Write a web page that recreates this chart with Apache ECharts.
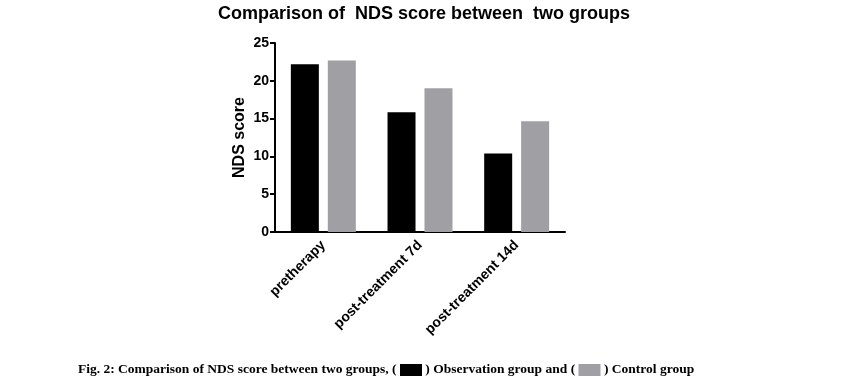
<!DOCTYPE html>
<html><head><meta charset="utf-8">
<script src="https://cdn.jsdelivr.net/npm/echarts@6/dist/echarts.min.js"></script>
<style>html,body{margin:0;padding:0;background:#fff}#c{width:864px;height:384px}</style>
</head><body><div id="c"></div>
<script>
var categories = ['pretherapy', 'post-treatment 7d', 'post-treatment 14d'];
var observation = [22.2, 15.85, 10.4];
var control = [22.7, 19.0, 14.65];
var yTicks = [0, 5, 10, 15, 20, 25];

var chart = echarts.init(document.getElementById('c'));
chart.setOption({
  animation: false,
  backgroundColor: '#fff',
  title: {
    text: 'Comparison of  NDS score between  two groups',
    left: 419, top: 0, textAlign: 'center',
    textStyle: {fontFamily: 'Liberation Sans, Arial', fontWeight: 'bold', fontSize: 18, color: '#000'}
  },
  grid: {left: 275, top: 43, width: 290, height: 189, containLabel: false},
  xAxis: {
    type: 'category', data: categories,
    axisLine: {lineStyle: {color: '#000', width: 2}},
    axisTick: {alignWithLabel: true, length: 5, lineStyle: {color: '#000', width: 2}},
    axisLabel: {rotate: 45, color: '#000', fontFamily: 'Liberation Sans, Arial', fontWeight: 'bold', fontSize: 14, margin: 11}
  },
  yAxis: {
    type: 'value', min: 0, max: 25, interval: 5,
    name: 'NDS score', nameLocation: 'middle', nameGap: 27,
    nameTextStyle: {fontFamily: 'Liberation Sans, Arial', fontWeight: 'bold', fontSize: 16, color: '#000'},
    axisLine: {show: true, lineStyle: {color: '#000', width: 2}},
    axisTick: {show: true, length: 5, lineStyle: {color: '#000', width: 2}},
    splitLine: {show: false},
    axisLabel: {color: '#000', fontFamily: 'Liberation Sans, Arial', fontWeight: 'bold', fontSize: 14, margin: 6,
      formatter: function (v) { return yTicks.indexOf(v) >= 0 ? String(v) : ''; }}
  },
  series: [
    {name: 'Observation group', type: 'bar', data: observation, barWidth: 28, barGap: '32%', itemStyle: {color: '#000'}},
    {name: 'Control group', type: 'bar', data: control, barWidth: 28, itemStyle: {color: '#a09fa4'}}
  ],
  graphic: [{
    type: 'text', left: 78, top: 363,
    style: {
      text: '{t|Fig. 2: Comparison of NDS score between two groups, ( }{b|}{t| ) Observation group and ( }{g|}{t| ) Control group}',
      rich: {
        t: {fontFamily: 'Liberation Serif, Times New Roman', fontWeight: 'bold', fontSize: 13.5, fill: '#000'},
        b: {width: 22, height: 12, backgroundColor: '#000'},
        g: {width: 22, height: 12, backgroundColor: '#a09fa4'}
      }
    }
  }]
});
</script>
</body></html>
